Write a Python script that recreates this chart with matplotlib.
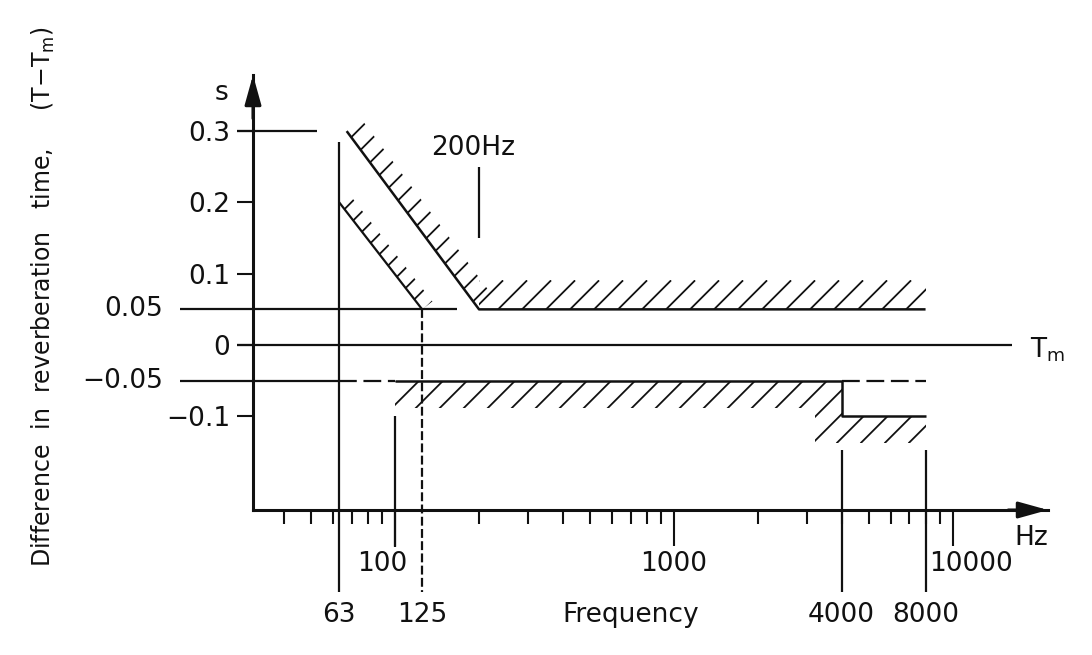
import numpy as np
import matplotlib
matplotlib.use("Agg")
import matplotlib.pyplot as plt
from matplotlib.patches import Polygon
from matplotlib.ticker import FixedLocator, NullFormatter

# ---------------------------------------------------------------------------
# DATA  (frequency in Hz, difference T - Tm in s)
# ---------------------------------------------------------------------------
# upper tolerance limit (hatched above)
upper_f = [67, 200, 8000]
upper_dt = [0.30, 0.05, 0.05]
# inner low-frequency limit (hatched)
inner_f = [63, 125]
inner_dt = [0.20, 0.05]
# lower tolerance limit (hatched below)
lower_f = [100, 4000, 4000, 8000]
lower_dt = [-0.05, -0.05, -0.10, -0.10]

# horizontal construction lines: level, start freq, end freq
hline_dt = [0.30, 0.05, 0.0, -0.05]
hline_f0 = [27, 16.9, 27, 16.9]
hline_f1 = [52.5, 167, 16300, 63]
# dashed continuation of -0.05
dash_dt = [-0.05, -0.05]
dash_f0 = [63, 4000]
dash_f1 = [100, 8000]

# vertical marker lines: freq, top, bottom
vline_f = [63, 100, 4000, 8000, 200]
vline_top = [0.285, -0.10, -0.147, -0.147, 0.25]
vline_bot = [-0.346, -0.283, -0.346, -0.346, 0.15]
dash_vf = 125
dash_vtop, dash_vbot = 0.05, -0.346

ytick_vals = [0.3, 0.2, 0.1, 0, -0.1]
ytick_labels = ["0.3", "0.2", "0.1", "0", "\u22120.1"]
side_vals = [0.05, -0.05]
side_labels = ["0.05", "\u22120.05"]

major_f = [100, 1000, 10000]
minor_f = [k * 10 ** e for e in (1, 2, 3) for k in range(2, 10) if 31 < k * 10 ** e < 10000]
decade_f = [89.8, 1000, 11630]
decade_labels = ["100", "1000", "10000"]
band_f = [63, 125, 4000, 8000]
band_labels = ["63", "125", "4000", "8000"]

# ---------------------------------------------------------------------------
# STYLE
# ---------------------------------------------------------------------------
INK = "#111111"
LW = 1.6
HATCH_LW = 1.3
FS = 19
XLIM = (30.9, 22000)
YLIM = (-0.2314, 0.3787)

plt.rcParams["font.family"] = ["DejaVu Sans"]

fig = plt.figure(figsize=(10.92, 6.55), dpi=100)
fig.patch.set_facecolor("white")
ax = fig.add_axes([253 / 1092, 1 - 510 / 655, 795 / 1092, 435 / 655])
ax.set_xscale("log")
ax.set_xlim(*XLIM)
ax.set_ylim(*YLIM)
ax.set_autoscale_on(False)
ax.set_facecolor("none")

for side in ["top", "right"]:
    ax.spines[side].set_visible(False)
for side in ["left", "bottom"]:
    ax.spines[side].set_linewidth(2.2)
    ax.spines[side].set_color(INK)

# axis arrows
arrow = dict(arrowstyle="-|>,head_length=0.9,head_width=0.25", color=INK,
             lw=2.2, mutation_scale=20, shrinkA=0, shrinkB=0)
ax.annotate("", xy=(0, 1), xytext=(0, 0.9), xycoords="axes fraction",
            arrowprops=arrow, annotation_clip=False)
ax.annotate("", xy=(1, 0), xytext=(0.95, 0), xycoords="axes fraction",
            arrowprops=arrow, annotation_clip=False)

# x ticks: decades long, 2..9 short, all pointing down
ax.xaxis.set_major_locator(FixedLocator(major_f))
ax.xaxis.set_minor_locator(FixedLocator(minor_f))
ax.xaxis.set_minor_formatter(NullFormatter())
ax.tick_params(axis="x", which="major", direction="out", length=26, width=1.5, color=INK)
ax.tick_params(axis="x", which="minor", direction="out", length=10, width=1.5, color=INK)
ax.tick_params(axis="x", which="both", labelbottom=False)

# y ticks
ax.set_yticks(ytick_vals, ytick_labels)
ax.tick_params(axis="y", direction="out", length=11.5, width=1.5, color=INK,
               pad=5, labelsize=FS, labelcolor=INK)


def line(xs, ys, **kw):
    kw.setdefault("lw", LW)
    ax.plot(xs, ys, color=INK, clip_on=False, solid_capstyle="butt", **kw)


def hatch(fs, dts, depth, step, side=1):
    # strokes at 45 deg inside a band offset from the limit line (pixels)
    p = ax.transData.transform(np.column_stack([fs, dts]))
    d = np.diff(p, axis=0)
    d /= np.hypot(d[:, 0], d[:, 1])[:, None]
    n = side * np.column_stack([-d[:, 1], d[:, 0]])
    off = np.empty_like(p)
    off[0] = p[0] + depth * n[0]
    off[-1] = p[-1] + depth * n[-1]
    for i in range(1, len(p) - 1):
        off[i] = p[i] + depth * (n[i - 1] + n[i]) / (1 + n[i - 1] @ n[i])
    outline = np.vstack([p, off[::-1]])
    inv = ax.transData.inverted()
    clip = Polygon(inv.transform(outline), closed=True, transform=ax.transData,
                   fill=False, edgecolor="none")
    ax.add_patch(clip)
    x0, y0 = outline.min(0)
    x1, y1 = outline.max(0)
    h = y1 - y0
    for c in np.arange(x0 - h, x1 + step, step):
        xy = inv.transform([[c, y0], [c + h, y1]])
        ln, = ax.plot(xy[:, 0], xy[:, 1], color=INK, lw=HATCH_LW, solid_capstyle="butt")
        ln.set_clip_path(clip)


# construction lines
for y, f0, f1 in zip(hline_dt, hline_f0, hline_f1):
    line([f0, f1], [y, y])
for y, f0, f1 in zip(dash_dt, dash_f0, dash_f1):
    line([f0, f1], [y, y], dashes=(8, 3))
for f, top, bot in zip(vline_f, vline_top, vline_bot):
    line([f, f], [top, bot])
line([dash_vf, dash_vf], [dash_vtop, dash_vbot], dashes=(4, 1.5))

# tolerance limits
line(upper_f, upper_dt, lw=1.8)
line(inner_f, inner_dt)
line(lower_f, lower_dt, lw=1.8)

hatch(upper_f[:2], upper_dt[:2], 19, 22, side=1)
hatch(upper_f[1:], upper_dt[1:], 29, 24, side=1)
hatch(inner_f, inner_dt, 13, 20, side=1)
hatch(lower_f, lower_dt, 27, 24, side=-1)

# ---------------------------------------------------------------------------
# TEXT
# ---------------------------------------------------------------------------
txt = dict(color=INK, fontsize=FS, clip_on=False)
for y, lab in zip(side_vals, side_labels):
    ax.text(14.7, y, lab, ha="right", va="center", **txt)
for f, lab in zip(decade_f, decade_labels):
    ax.text(f, -0.307, lab, ha="center", va="center", **txt)
for f, lab in zip(band_f, band_labels):
    ax.text(f, -0.379, lab, ha="center", va="center", **txt)
ax.text(701, -0.379, "Frequency", ha="center", va="center", **txt)
ax.text(19100, -0.271, "Hz", ha="center", va="center", **txt)
ax.text(19000, -0.006, "T$_\\mathrm{m}$", ha="left", va="center", **txt)
ax.text(23.9, 0.353, "s", ha="center", va="center", **txt)
ax.text(190, 0.276, "200Hz", ha="center", va="center", **txt)

ax.text(-0.264, 0.49,
        "Difference  in  reverberation   time,     (T\u2212T$_\\mathrm{m}$)",
        transform=ax.transAxes, rotation=90, ha="center", va="center",
        color=INK, fontsize=17)

fig.savefig("out.png", dpi=100, facecolor="white")
